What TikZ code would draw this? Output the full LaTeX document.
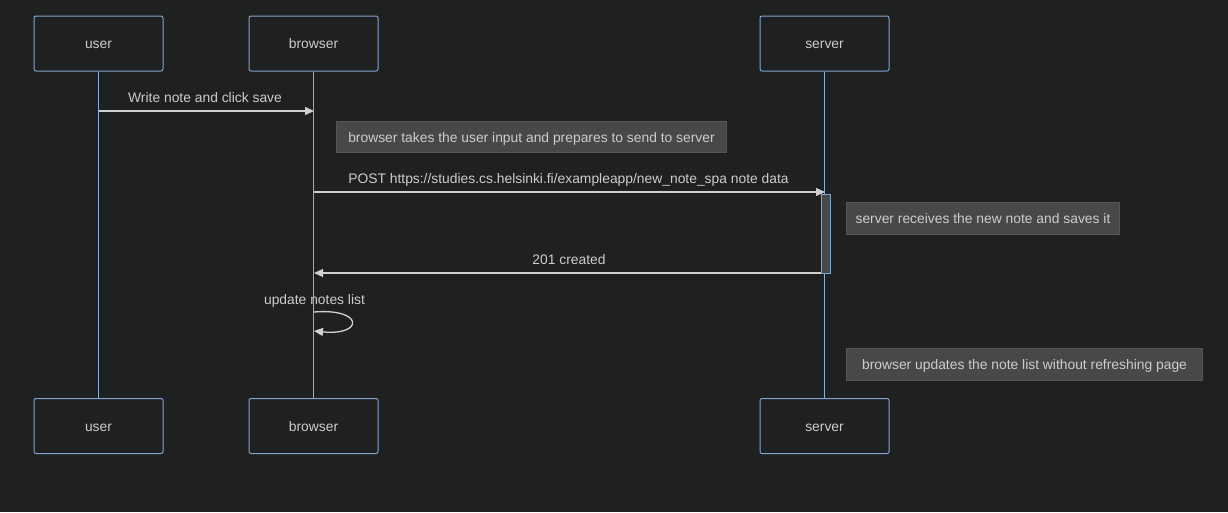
\documentclass[tikz,border=0pt]{standalone}
\usepackage{fontspec}
\setmainfont{Liberation Sans}
\usetikzlibrary{arrows.meta}
\definecolor{bg}{HTML}{1F2020}
\definecolor{actborder}{HTML}{81A5CF}
\definecolor{life}{HTML}{8AAED8}
\definecolor{txt}{HTML}{CCCCCC}
\definecolor{notefill}{HTML}{474949}
\definecolor{noteborder}{HTML}{555757}
\definecolor{msg}{HTML}{D0D0D0}
\begin{document}
\begin{tikzpicture}[x=1pt,y=-1pt,
  actor/.style={draw=actborder, fill=bg, rounded corners=2pt, line width=1pt, minimum width=129pt, minimum height=55pt, inner sep=0pt},
  lifeline/.style={draw=life, line width=1.6pt},
  note/.style={draw=noteborder, fill=notefill, line width=1pt, inner sep=0pt, anchor=north west},
  msgline/.style={draw=msg, line width=1.3pt, -{Triangle[length=9pt,width=8pt]}},
  lbl/.style={text=txt, font=\fontsize{13.85}{16}\selectfont, inner sep=0pt, text height=10pt, text depth=3pt, yshift=-1.5pt}
]
\fill[bg] (0,0) rectangle (1228,512);
\useasboundingbox (0,0) rectangle (1228,512);
% actors
\node[actor] (ut) at (98.5,43.5) {};
\node[actor] (bt) at (313.5,43.5) {};
\node[actor] (st) at (824.5,43.5) {};
\node[actor] (ub) at (98.5,426) {};
\node[actor] (bb) at (313.5,426) {};
\node[actor] (sb) at (824.5,426) {};
\node[lbl] at (ut.center) {user};
\node[lbl] at (bt.center) {browser};
\node[lbl] at (st.center) {server};
\node[lbl] at (ub.center) {user};
\node[lbl] at (bb.center) {browser};
\node[lbl] at (sb.center) {server};
% lifelines
\draw[lifeline] (ut.south) -- (ub.north);
\draw[lifeline] (bt.south) -- (bb.north);
\draw[lifeline] (st.south) -- (sb.north);
% activation
\node[draw=actborder, fill=notefill, line width=1pt, minimum width=9pt, minimum height=79pt, inner sep=0pt, anchor=north west] (act) at (820.5,194) {};
% message 1
\coordinate (m1a) at (99,111);
\coordinate (m1b) at (314,111);
\draw[msgline] (m1a) -- (m1b);
\node[lbl] (l1) at (205,97) {Write note and click save};
% note 1
\node[note, minimum width=390pt, minimum height=31pt] (n1) at (336,121) {};
\node[lbl] at (n1.center) {browser takes the user input and prepares to send to server};
% message 2
\coordinate (m2a) at (314,192);
\coordinate (m2b) at (825,192);
\draw[msgline] (m2a) -- (m2b);
\node[lbl] (l2) at (568.5,178) {POST https://studies.cs.helsinki.fi/exampleapp/new\_note\_spa note data};
% note 2
\node[note, minimum width=273pt, minimum height=32pt] (n2) at (846,202) {};
\node[lbl] at (n2.center) {server receives the new note and saves it};
% message 3
\coordinate (m3a) at (820.5,273);
\coordinate (m3b) at (314,273);
\draw[msgline] (m3a) -- (m3b);
\node[lbl] (l3) at (569,259) {201 created};
% self loop
\node[lbl] (l4) at (314.5,299) {update notes list};
\coordinate (s1) at (314,312);
\coordinate (s2) at (314,331);
\draw[msgline] (s1) .. controls (364,308) and (364,336) .. (s2);
% note 3
\node[note, minimum width=356pt, minimum height=32pt] (n3) at (846,348) {};
\node[lbl] at (n3.center) {browser updates the note list without refreshing page};
\end{tikzpicture}
\end{document}
